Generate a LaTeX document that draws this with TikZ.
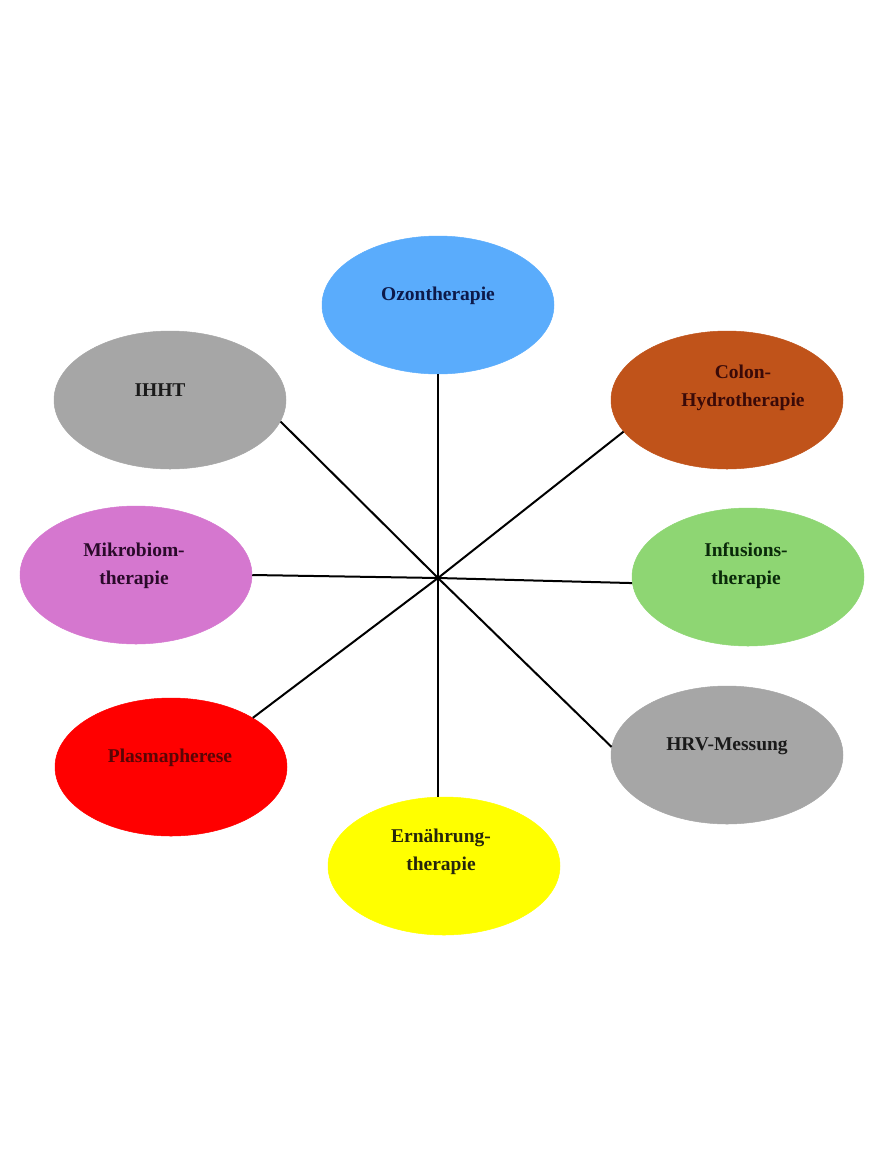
\documentclass[tikz,border=0pt]{standalone}
\usepackage{fontspec}
\setmainfont{Liberation Serif}
\usetikzlibrary{shapes.geometric}
\definecolor{ozon}{HTML}{5AACFC}
\definecolor{grau}{HTML}{A6A6A6}
\definecolor{colon}{HTML}{C0531A}
\definecolor{mikro}{HTML}{D577CF}
\definecolor{infus}{HTML}{8ED673}
\definecolor{plasma}{HTML}{FF0000}
\definecolor{ernaehr}{HTML}{FFFF00}
\definecolor{tozon}{HTML}{0D1A4A}
\definecolor{tgrau}{HTML}{1A1A1A}
\definecolor{tcolon}{HTML}{3A0A08}
\definecolor{tmikro}{HTML}{2A0A2A}
\definecolor{tinfus}{HTML}{0A2A0A}
\definecolor{tplasma}{HTML}{5A0505}
\definecolor{ternaehr}{HTML}{26260C}
\begin{document}
\begin{tikzpicture}
    [x=1pt, y=-1pt, line width=2pt,
    therapie/.style={ellipse, draw=#1, fill=#1, line width=0.5pt, minimum width=232pt, minimum height=138pt, inner sep=0pt},
    beschr/.style={align=center, font=\fontsize{19.5}{28}\selectfont\bfseries}]
    \useasboundingbox (0,0) rectangle (880,1173);
    \coordinate (m) at (438,578);
    \node[therapie=ozon] (oz) at (438,305){};
    \node[therapie=grau] (ih) at (170,400){};
    \node[therapie=colon] (co) at (727,400){};
    \node[therapie=mikro] (mi) at (136,575){};
    \node[therapie=infus] (in) at (748,577){};
    \node[therapie=plasma] (pl) at (171,767){};
    \node[therapie=grau] (hr) at (727,755){};
    \node[therapie=ernaehr] (er) at (444,866){};
    \node[beschr, text=tozon] (toz) at (438,296){Ozontherapie};
    \node[beschr, text=tgrau] (tih) at (160,390){IHHT};
    \node[beschr, text=tcolon] (tco) at (743,388){Colon-\\Hydrotherapie};
    \node[beschr, text=tmikro] (tmi) at (134,566){Mikrobiom-\\therapie};
    \node[beschr, text=tinfus] (tin) at (746,566){Infusions-\\therapie};
    \node[beschr, text=tplasma] (tpl) at (170,758){Plasmapherese};
    \node[beschr, text=tgrau] (thr) at (727,746){HRV-Messung};
    \node[beschr, text=ternaehr] (ter) at (441,852){Ernährung-\\therapie};
    \draw (m) -- (oz.south);
    \draw (m) -- (ih.-11.5);
    \draw (m) -- (co.-163.6);
    \draw (m) -- (mi.east);
    \draw (m) -- (in.-177.5);
    \draw (m) -- (pl.31);
    \draw (m) -- (hr.176.6);
    \draw (m) -- (m |- er.north);
\end{tikzpicture}
\end{document}
